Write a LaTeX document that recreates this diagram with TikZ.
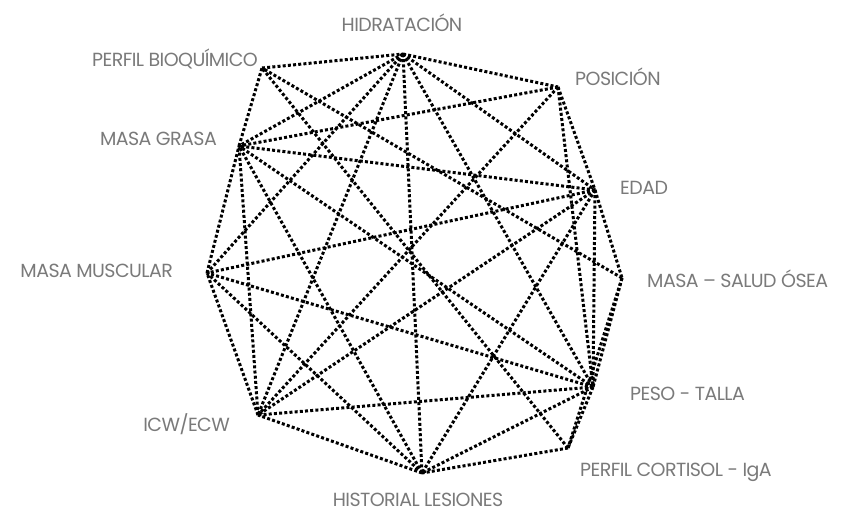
\documentclass[tikz,border=0pt]{standalone}
\usepackage{fontspec}
\setmainfont{Poppins}[LetterSpace=-3]
\begin{document}
\begin{tikzpicture}[x=1pt,y=-1pt,
  link/.style={line width=3pt, dash pattern=on 3pt off 2.2pt, black},
  lbl/.style={text=black!52, font=\fontsize{19}{21}\selectfont, inner sep=0pt}]
\useasboundingbox[fill=white] (0,0) rectangle (842,515);
% vertices
\coordinate (hid) at (403,54);
\coordinate (pos) at (558,87);
\coordinate (edad) at (595,190);
\coordinate (osea) at (622,278);
\coordinate (peso) at (593,387);
\coordinate (cort) at (568,448);
\coordinate (hist) at (422,473);
\coordinate (icw) at (258,415);
\coordinate (musc) at (207,273);
\coordinate (grasa) at (239,146);
\coordinate (bio) at (262,68);
% perimeter
\draw[link] (hid) -- (pos);
\draw[link] (pos) -- (edad);
\draw[link] (edad) -- (osea);
\draw[link] (osea) -- (peso);
\draw[link] (peso) -- (cort);
\draw[link] (cort) -- (hist);
\draw[link] (hist) -- (icw);
\draw[link] (icw) -- (musc);
\draw[link] (musc) -- (grasa);
\draw[link] (grasa) -- (bio);
\draw[link] (bio) -- (hid);
% chords
\draw[link] (hid) -- (grasa);
\draw[link] (hid) -- (musc);
\draw[link] (hid) -- (icw);
\draw[link] (hid) -- (hist);
\draw[link] (hid) -- (peso);
\draw[link] (hid) -- (edad);
\draw[link] (pos) -- (grasa);
\draw[link] (pos) -- (icw);
\draw[link] (pos) -- (peso);
\draw[link] (edad) -- (grasa);
\draw[link] (edad) -- (musc);
\draw[link] (edad) -- (icw);
\draw[link] (edad) -- (hist);
\draw[link] (edad) -- (peso);
\draw[link] (osea) -- (bio);
\draw[link] (osea) -- (cort);
\draw[link] (peso) -- (grasa);
\draw[link] (peso) -- (musc);
\draw[link] (peso) -- (icw);
\draw[link] (peso) -- (hist);
\draw[link] (cort) -- (bio);
\draw[link] (hist) -- (musc);
\draw[link] (hist) -- (grasa);
\draw[link] (icw) -- (grasa);
% labels
\node[lbl] (lhid) at (402,23) {HIDRATACIÓN};
\node[lbl, anchor=east] (lbio) at (258,59) {PERFIL BIOQUÍMICO};
\node[lbl, anchor=west] (lpos) at (575,77) {POSICIÓN};
\node[lbl, anchor=east] (lgrasa) at (217,139) {MASA GRASA};
\node[lbl, anchor=west] (ledad) at (620,188) {EDAD};
\node[lbl, anchor=west] (losea) at (647,279) {MASA – SALUD ÓSEA};
\node[lbl, anchor=east] (lmusc) at (173,271) {MASA MUSCULAR};
\node[lbl, anchor=west] (lpeso) at (630,394) {PESO - TALLA};
\node[lbl, anchor=west] (lcort) at (580,472) {PERFIL CORTISOL - IgA};
\node[lbl, anchor=east] (licw) at (230,424) {ICW/ECW};
\node[lbl] (lhist) at (418,500) {HISTORIAL LESIONES};
\end{tikzpicture}
\end{document}
